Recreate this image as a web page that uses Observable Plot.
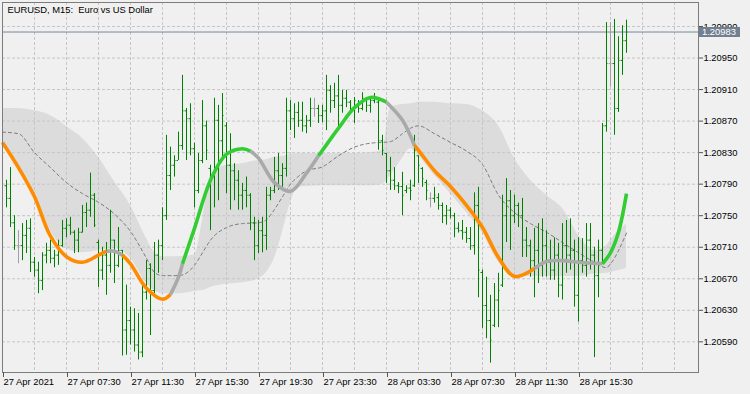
<!DOCTYPE html>
<html><head><meta charset="utf-8">
<script src="https://cdn.jsdelivr.net/npm/d3@7"></script>
<script src="https://cdn.jsdelivr.net/npm/@observablehq/plot@0.6"></script>
<style>
html,body{margin:0;padding:0;background:#f0f0f0;}
svg text{white-space:pre;}
</style></head><body><div id="chart"></div>
<script>
const title = "EURUSD, M15:  Euro vs US Dollar";
const lastPrice = 1.20983;

// M15 bars, index 1..156 (bar 0 = 27 Apr 03:30)
const barHigh = [1.20795,1.20811,1.20750,1.20731,1.20740,1.20744,1.20746,1.20697,1.20691,1.20703,
1.20715,1.20719,1.20706,1.20719,1.20744,1.20746,1.20748,1.20731,1.20734,1.20763,
1.20766,1.20804,1.20778,1.20719,1.20710,1.20716,1.20757,1.20719,1.20735,1.20706,
1.20662,1.20634,1.20632,1.20626,1.20664,1.20693,1.20689,1.20716,1.20719,1.20760,
1.20852,1.20837,1.20826,1.20856,1.20928,1.20886,1.20892,1.20842,1.20829,1.20896,
1.20870,1.20814,1.20899,1.20890,1.20905,1.20868,1.20854,1.20816,1.20807,1.20791,
1.20799,1.20778,1.20748,1.20744,1.20748,1.20786,1.20786,1.20824,1.20829,1.20816,
1.20899,1.20896,1.20892,1.20894,1.20894,1.20877,1.20899,1.20899,1.20890,1.20890,
1.20928,1.20915,1.20918,1.20928,1.20909,1.20909,1.20896,1.20900,1.20896,1.20906,
1.20900,1.20900,1.20905,1.20896,1.20852,1.20829,1.20824,1.20811,1.20792,1.20805,
1.20788,1.20795,1.20852,1.20826,1.20811,1.20795,1.20779,1.20786,1.20778,1.20766,
1.20763,1.20760,1.20753,1.20741,1.20744,1.20735,1.20735,1.20779,1.20786,1.20681,
1.20672,1.20649,1.20664,1.20677,1.20776,1.20797,1.20782,1.20776,1.20766,1.20772,
1.20735,1.20719,1.20734,1.20740,1.20746,1.20731,1.20719,1.20722,1.20715,1.20740,
1.20744,1.20746,1.20719,1.20722,1.20721,1.20740,1.20740,1.20710,1.20719,1.20867,
1.20995,1.20995,1.20999,1.20977,1.20991,1.20998];
const barLow = [1.20760,1.20735,1.20706,1.20689,1.20693,1.20702,1.20678,1.20672,1.20651,1.20655,
1.20689,1.20689,1.20684,1.20687,1.20710,1.20722,1.20725,1.20702,1.20703,1.20728,
1.20735,1.20748,1.20735,1.20659,1.20668,1.20649,1.20677,1.20664,1.20684,1.20572,
1.20573,1.20586,1.20577,1.20567,1.20570,1.20643,1.20598,1.20651,1.20677,1.20693,
1.20744,1.20782,1.20799,1.20820,1.20833,1.20820,1.20826,1.20760,1.20778,1.20816,
1.20820,1.20731,1.20760,1.20769,1.20820,1.20778,1.20757,1.20769,1.20757,1.20757,
1.20760,1.20731,1.20693,1.20702,1.20703,1.20706,1.20769,1.20778,1.20782,1.20786,
1.20799,1.20858,1.20848,1.20862,1.20856,1.20854,1.20862,1.20875,1.20867,1.20868,
1.20858,1.20880,1.20886,1.20858,1.20880,1.20887,1.20880,1.20867,1.20880,1.20883,
1.20881,1.20880,1.20892,1.20833,1.20826,1.20791,1.20782,1.20782,1.20778,1.20750,
1.20778,1.20769,1.20786,1.20791,1.20786,1.20769,1.20760,1.20766,1.20757,1.20740,
1.20738,1.20746,1.20722,1.20728,1.20719,1.20715,1.20706,1.20700,1.20646,1.20607,
1.20594,1.20563,1.20608,1.20608,1.20659,1.20716,1.20706,1.20740,1.20735,1.20697,
1.20697,1.20672,1.20646,1.20664,1.20672,1.20672,1.20668,1.20668,1.20646,1.20643,
1.20677,1.20681,1.20634,1.20615,1.20677,1.20672,1.20681,1.20570,1.20646,1.20689,
1.20856,1.20913,1.20852,1.20881,1.20928,1.20956];
const barOpen = [1.20788,1.20772,1.20741,1.20712,1.20712,1.20725,1.20734,1.20691,1.20681,1.20668,
1.20700,1.20706,1.20696,1.20700,1.20712,1.20734,1.20738,1.20729,1.20719,1.20729,
1.20754,1.20757,1.20776,1.20716,1.20681,1.20700,1.20687,1.20719,1.20687,1.20706,
1.20605,1.20617,1.20605,1.20586,1.20577,1.20653,1.20683,1.20655,1.20700,1.20712,
1.20750,1.20801,1.20814,1.20820,1.20839,1.20883,1.20873,1.20835,1.20782,1.20820,
1.20864,1.20810,1.20801,1.20871,1.20845,1.20864,1.20814,1.20807,1.20795,1.20776,
1.20782,1.20776,1.20741,1.20712,1.20731,1.20725,1.20776,1.20782,1.20807,1.20801,
1.20810,1.20883,1.20873,1.20881,1.20871,1.20864,1.20871,1.20886,1.20886,1.20877,
1.20883,1.20909,1.20896,1.20902,1.20890,1.20899,1.20894,1.20886,1.20891,1.20886,
1.20899,1.20890,1.20896,1.20894,1.20845,1.20829,1.20807,1.20795,1.20788,1.20787,
1.20782,1.20785,1.20788,1.20826,1.20810,1.20792,1.20772,1.20772,1.20773,1.20763,
1.20750,1.20757,1.20750,1.20734,1.20731,1.20729,1.20721,1.20712,1.20763,1.20678,
1.20636,1.20617,1.20611,1.20643,1.20662,1.20750,1.20769,1.20750,1.20763,1.20750,
1.20719,1.20712,1.20693,1.20706,1.20687,1.20712,1.20691,1.20681,1.20700,1.20662,
1.20712,1.20700,1.20706,1.20649,1.20693,1.20687,1.20719,1.20700,1.20674,1.20706,
1.20864,1.20943,1.20943,1.20886,1.20947,1.20972];
const barClose = [1.20772,1.20741,1.20712,1.20712,1.20725,1.20734,1.20691,1.20681,1.20668,1.20700,
1.20706,1.20696,1.20700,1.20712,1.20734,1.20738,1.20729,1.20719,1.20729,1.20754,
1.20757,1.20776,1.20738,1.20681,1.20700,1.20687,1.20719,1.20687,1.20706,1.20605,
1.20617,1.20605,1.20586,1.20577,1.20653,1.20683,1.20655,1.20700,1.20712,1.20750,
1.20801,1.20814,1.20820,1.20839,1.20883,1.20873,1.20835,1.20782,1.20820,1.20864,
1.20833,1.20801,1.20871,1.20845,1.20877,1.20814,1.20807,1.20795,1.20776,1.20782,
1.20776,1.20741,1.20712,1.20731,1.20725,1.20776,1.20782,1.20807,1.20801,1.20810,
1.20883,1.20873,1.20881,1.20871,1.20864,1.20871,1.20886,1.20886,1.20877,1.20883,
1.20909,1.20896,1.20902,1.20890,1.20899,1.20894,1.20886,1.20896,1.20886,1.20899,
1.20890,1.20896,1.20900,1.20845,1.20833,1.20807,1.20795,1.20788,1.20787,1.20776,
1.20785,1.20782,1.20833,1.20814,1.20797,1.20782,1.20772,1.20776,1.20763,1.20750,
1.20757,1.20750,1.20734,1.20731,1.20729,1.20721,1.20712,1.20763,1.20681,1.20636,
1.20617,1.20592,1.20643,1.20655,1.20750,1.20769,1.20750,1.20763,1.20750,1.20719,
1.20712,1.20693,1.20706,1.20687,1.20712,1.20691,1.20681,1.20700,1.20662,1.20712,
1.20700,1.20706,1.20649,1.20693,1.20687,1.20719,1.20700,1.20674,1.20706,1.20864,
1.20943,1.20943,1.20886,1.20947,1.20972,1.20983];

// envelope band and its middle line, sampled at bar indices
const bandK = [0,4,8,12,16,20,24,28,32,36,38,40,44,48,50,52,56,60,64,66,68,70,72,74,76,80,84,88,92,95,97,100,102,104,108,112,116,120,124,128,132,136,140,144,148,151,152,156];
const bandUpper = [1.20886,1.20886,1.20883,1.20877,1.20863,1.20848,1.20824,1.20793,1.20763,1.20721,
1.20703,1.20698,1.20698,1.20700,1.20744,1.20801,1.20814,1.20816,1.20820,1.20821,
1.20824,1.20825,1.20828,1.20829,1.20829,1.20829,1.20829,1.20829,1.20830,1.20833,
1.20887,1.20891,1.20892,1.20894,1.20894,1.20892,1.20891,1.20883,1.20864,1.20823,
1.20795,1.20776,1.20759,1.20725,1.20706,1.20712,1.20719,1.20739];
const bandLower = [1.20842,1.20812,1.20779,1.20731,1.20708,1.20703,1.20706,1.20708,1.20696,1.20664,
1.20655,1.20651,1.20651,1.20654,1.20655,1.20659,1.20663,1.20665,1.20670,1.20678,
1.20696,1.20729,1.20766,1.20786,1.20787,1.20788,1.20788,1.20788,1.20788,1.20790,
1.20801,1.20823,1.20835,1.20826,1.20801,1.20778,1.20754,1.20728,1.20691,1.20674,
1.20673,1.20673,1.20673,1.20673,1.20676,1.20677,1.20678,1.20683];
const bandMid = [1.20856,1.20854,1.20830,1.20811,1.20792,1.20778,1.20767,1.20752,1.20730,1.20696,
1.20678,1.20674,1.20674,1.20687,1.20703,1.20719,1.20735,1.20740,1.20741,1.20745,
1.20758,1.20774,1.20790,1.20800,1.20807,1.20812,1.20826,1.20837,1.20842,1.20843,
1.20844,1.20854,1.20861,1.20864,1.20854,1.20843,1.20832,1.20815,1.20776,1.20754,
1.20740,1.20729,1.20716,1.20703,1.20691,1.20684,1.20689,1.20728];

// smoothed trend line with its slope state (down / flat / up)
const lineK = [0,4,8,12,16,20,24,26,28,30,32,36,40,42,44,45,48,52,56,60,62,64,68,72,76,79,80,84,88,92,96,100,103,104,108,112,116,120,124,128,133,136,140,144,150,152,154,156];
const lineVal = [1.20843,1.20811,1.20774,1.20724,1.20698,1.20691,1.20700,1.20705,1.20705,1.20700,
1.20689,1.20658,1.20644,1.20650,1.20672,1.20689,1.20734,1.20795,1.20828,1.20835,
1.20832,1.20823,1.20792,1.20781,1.20804,1.20826,1.20833,1.20861,1.20887,1.20900,
1.20894,1.20871,1.20839,1.20833,1.20807,1.20787,1.20763,1.20735,1.20697,1.20673,
1.20683,1.20692,1.20693,1.20691,1.20689,1.20703,1.20729,1.20778];
const lineTrend = ["down","down","down","down","down","down","down","flat","flat","down",
"down","down","down","flat","flat","up","up","up","up","up",
"flat","flat","flat","flat","flat","up","up","up","up","up",
"flat","flat","down","down","down","down","down","down","down","down",
"flat","flat","flat","flat","up","up","up","up"];

// axes
const yTicks = [1.20590,1.20630,1.20670,1.20710,1.20750,1.20790,1.20830,1.20870,1.20910,1.20950,1.20990];
const tickK = [0,16,32,48,64,80,96,112,128,144];
const tickLabels = ["27 Apr 2021","27 Apr 07:30","27 Apr 11:30","27 Apr 15:30","27 Apr 19:30","27 Apr 23:30","28 Apr 03:30","28 Apr 07:30","28 Apr 11:30","28 Apr 15:30"];
const gridK = [0,8,16,24,32,40,48,56,64,72,80,88,96,104,112,120,128,136,144,152,160,168];

const trendColor = {down:"#ff8c00", flat:"#a9a9a9", up:"#32cd32"};
const barColor = "#008000", dojiColor = "#a0a0a0";

const bars = barHigh.map((h,i)=>({k:i+1, high:h, low:barLow[i], open:barOpen[i], close:barClose[i]}));
const col = d => d.open === d.close ? dojiColor : barColor;
const band = bandK.map((k,i)=>({k, upper:bandUpper[i], lower:bandLower[i], mid:bandMid[i]}));
const lineRows = [];
{
  let g = -1, prev = null;
  for (let i = 0; i < lineK.length - 1; i++) {
    const t = lineTrend[i];
    if (t !== prev) { g++; prev = t; lineRows.push({k:lineK[i], v:lineVal[i], g, c:trendColor[t]}); }
    lineRows.push({k:lineK[i+1], v:lineVal[i+1], g, c:trendColor[t]});
  }
}

const priceLabel = (index, scales, values, dimensions) => {
  const y = Math.round(scales.y(lastPrice));
  const x0 = dimensions.width - dimensions.marginRight;
  const g = d3.create("svg:g");
  g.append("rect").attr("x", x0 + 1).attr("y", y - 5).attr("width", 41).attr("height", 10).attr("fill", "#708090");
  g.append("text").attr("x", x0 + 4).attr("y", y).attr("dy", "0.35em")
    .attr("text-anchor", "start").attr("fill", "#ffffff").attr("font-size", "9.4px")
    .text(lastPrice.toFixed(5));
  return g.node();
};

const chart = Plot.plot({
  width: 750, height: 394,
  marginLeft: 2, marginRight: 52, marginTop: 2, marginBottom: 22,
  x: {domain: [0, 174], axis: null},
  y: {domain: [1.205511, 1.2102045], axis: null},
  color: {type: "identity"},
  style: {background: "#f0f0f0", fontFamily: "'Liberation Sans', Arial, sans-serif", fontSize: "9.4px", color: "#000", overflow: "visible"},
  marks: [
    Plot.areaY(band, {x:"k", y1:"lower", y2:"upper", fill:"#dcdcdc", curve:"monotone-x"}),
    Plot.gridY({ticks: yTicks, stroke:"#c6c6c6", strokeOpacity:1, strokeDasharray:"3,2"}),
    Plot.gridX({ticks: gridK, stroke:"#c6c6c6", strokeOpacity:1, strokeDasharray:"3,2"}),
    Plot.line(band, {x:"k", y:"mid", stroke:"#7a7a7a", strokeWidth:1, strokeDasharray:"3,3", curve:"monotone-x"}),
    Plot.ruleY([lastPrice], {stroke:"#778899", strokeWidth:1}),
    Plot.ruleX(bars, {x:"k", y1:"low", y2:"high", stroke: col, strokeWidth:1}),
    Plot.ruleY(bars, {y:"open", x1: d => d.k - 0.375, x2: d => d.k, stroke: col, strokeWidth:1}),
    Plot.ruleY(bars, {y:"close", x1: d => d.k, x2: d => d.k + 0.375, stroke: col, strokeWidth:1}),
    Plot.line(lineRows, {x:"k", y:"v", z:"g", stroke:"c", strokeWidth:3.6, curve:"catmull-rom", strokeLinecap:"butt"}),
    Plot.frame({stroke:"#7c7c7c"}),
    Plot.axisY({anchor:"right", label:null, ticks: yTicks, tickFormat: d => d.toFixed(5), tickSize:4, tickPadding:1, stroke:"#555", fill:"#000"}),
    Plot.axisX({anchor:"bottom", label:null, ticks: tickK, tickFormat: d => tickLabels[tickK.indexOf(d)], textAnchor:"start", tickSize:5, tickPadding:1, dx:1, stroke:"#555", fill:"#000"}),
    Plot.text([title], {frameAnchor:"top-left", dx:5, dy:4, lineAnchor:"top", textAnchor:"start", fill:"#000"}),
    priceLabel
  ]
});
document.getElementById("chart").appendChild(chart);
</script>
</body></html>
